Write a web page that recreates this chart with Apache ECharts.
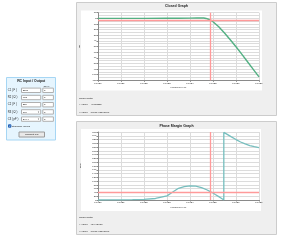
<!DOCTYPE html>
<html><head><meta charset="utf-8">
<script src="https://cdn.jsdelivr.net/npm/echarts@6/dist/echarts.min.js"></script>
<style>html,body{margin:0;padding:0;background:#fff;}#c{width:281px;height:240px;}</style>
</head><body><div id="c"></div>
<script>
// ---- data ----
const tickLabels = ['10.0E0','10.0E1','10.0E2','10.0E3','10.0E4','10.0E5','10.0E6','10.0E7'];
const gainExp = [0, 1, 2, 3, 3.5, 4, 4.3, 4.5, 4.6, 4.7, 4.8, 4.9, 5.0, 5.1, 5.25, 5.5, 5.75, 6.0, 6.25, 6.5, 6.75, 7.0];
const gainDb  = [0, 0, 0, 0.05, 0.15, 0.4, 0.7, 0.8, 0.6, -0.2, -1.6, -3.1, -6, -9.5, -15, -26, -38, -50.5, -63.5, -77, -90.5, -104];
const phaseExp = [0, 0.5, 1, 1.5, 2, 2.5, 3, 3.25, 3.5, 3.75, 4.0, 4.25, 4.5, 4.75, 4.9, 5.0, 5.1, 5.25, 5.36, 5.47, 5.47, 5.6, 5.8, 6.0, 6.2, 6.4, 6.6, 6.8, 7.0];
const phaseDeg = [0, 0.2, 0.5, 1.5, 3, 8, 22, 42, 62, 71, 75, 73, 65, 53, 43, 37, 29, 18, 9, 0, 358, 349, 334, 320, 307, 297, 288, 282, 277];
const cursorFreq = 79101.92241001;
const cursorGainDb = -3.002227;
const cursorPhaseDeg = 42.445923;
const gainText = { y: '-3.002227', x: '79101.92241001' };
const phaseText = { y: '42.445923', x: '79101.92241001' };
const formLabels = ['C1 ( F )', 'R2 ( \u03A9 )', 'C2 ( F )', 'R3 ( \u03A9 )', 'C3 ( pF )'];
const formValues = ['220n', '982', '22n', '100', '240 X'];
const formSelect = [false, false, false, true, true];
const tolValues = ['5', '5', '5', '5', '5'];

const FONT = 'Liberation Sans, Arial, sans-serif';
const chart = echarts.init(document.getElementById('c'), null, {renderer: 'canvas'});

function txt(x, y, text, size, opts) {
  opts = opts || {};
  return { type: 'text', x: x, y: y, z: 20, silent: true,
    style: { text: text, fontSize: size, fontFamily: FONT, fontWeight: opts.bold ? 'bold' : 'normal',
      fill: opts.fill || '#1a1a1a', align: opts.align || 'left', verticalAlign: 'middle' } };
}
function rect(x, y, w, h, fill, stroke, z) {
  return { type: 'rect', z: z === undefined ? -10 : z, silent: true, shape: { x: x, y: y, width: w, height: h },
    style: { fill: fill, stroke: stroke || null, lineWidth: stroke ? 1 : 0 } };
}

const g = [];
// chart panels
g.push(rect(76.5, 2.5, 200, 113, '#efefef', '#cccccc', -20));
g.push(rect(81, 10.5, 181, 80, '#ffffff', null, -15));
g.push(rect(76.5, 121.5, 200, 113, '#efefef', '#cccccc', -20));
g.push(rect(81, 129, 180, 82, '#ffffff', null, -15));
g.push(txt(176.5, 6, 'Closed Graph', 3.5, {bold: true, align: 'center'}));
g.push(txt(176.5, 125.8, 'Phase Margin Graph', 3.5, {bold: true, align: 'center'}));
// cursor data
[[98.5, 104.3, 112.5, gainText], [217.5, 224, 231.8, phaseText]].forEach(function (r) {
  g.push(txt(79, r[0], 'Cursor Data:', 2.5));
  g.push(txt(79, r[1], 'Y Value:', 2.5));
  g.push(txt(90.5, r[1], r[3].y, 2.5));
  g.push(txt(79, r[2], 'X Value:', 2.5));
  g.push(txt(90.5, r[2], r[3].x, 2.5));
});
// RC input panel
g.push(rect(6.5, 77.5, 49, 62.5, '#e6f5fe', '#a6d6f4', -20));
g.push(txt(31.2, 81.2, 'RC Input / Output', 3.4, {bold: true, align: 'center'}));
g.push(txt(46.5, 86, 'Tol %', 2.5, {align: 'center'}));
formLabels.forEach(function (lab, i) {
  const y = 90.3 + i * 7.2;
  g.push(txt(7.8, y, lab, 2.7));
  g.push(rect(21.5, y - 2.2, 19.2, 4.4, '#ffffff', '#b0b0b0', -5));
  g.push(txt(22.7, y, formValues[i], 2.5));
  if (formSelect[i]) g.push(txt(38.6, y, '\u02C5', 2.6, {align: 'center', fill: '#555'}));
  g.push(rect(42.8, y - 2.2, 10.6, 4.4, '#ffffff', '#b0b0b0', -5));
  g.push(txt(43.9, y, tolValues[i], 2.5));
});
g.push(rect(8.5, 124.8, 2.4, 2.4, '#3d7fd6', '#2a63b3', -5));
g.push(txt(9.7, 126, '\u2713', 2.4, {align: 'center', fill: '#fff'}));
g.push(txt(11.8, 126, 'Standard Values', 2.5));
g.push(rect(19, 132, 25.5, 5, '#e9e9e9', '#9a9a9a', -5));
g.push(txt(31.7, 134.5, 'Suggest RC', 2.5, {align: 'center'}));

const gridColor = '#dcdcdc';
function xAx(i) {
  return { type: 'value', gridIndex: i, min: 0, max: 7, interval: 1,
    axisLine: { show: true, onZero: false, lineStyle: { color: '#8a8a8a', width: 1 } },
    axisTick: { show: true, length: 1.5, lineStyle: { color: '#8a8a8a' } },
    axisLabel: { fontSize: 2.3, color: '#222', margin: 1.8, fontFamily: FONT,
      formatter: function (v) { return tickLabels[Math.round(v)]; } },
    splitLine: { show: true, lineStyle: { color: gridColor, width: 1 } },
    name: 'Frequency(Hz)', nameLocation: 'middle', nameGap: 6.5,
    nameTextStyle: { fontSize: 2.4, color: '#222', fontFamily: FONT } };
}
function yAx(i, min, max, interval, name, minor) {
  const a = { type: 'value', gridIndex: i, min: min, max: max, interval: interval,
    axisLine: { show: true, onZero: false, lineStyle: { color: '#8a8a8a', width: 1 } },
    axisTick: { show: true, length: 1.5, lineStyle: { color: '#8a8a8a' } },
    axisLabel: { fontSize: 2.3, color: '#222', margin: 1.8, fontFamily: FONT },
    splitLine: { show: true, lineStyle: { color: gridColor, width: 1 } },
    name: name, nameLocation: 'middle', nameRotate: 90, nameGap: 11,
    nameTextStyle: { fontSize: 2.5, color: '#222', fontFamily: FONT } };
  if (minor) {
    a.minorTick = { show: false, splitNumber: 2 };
    a.minorSplitLine = { show: true, lineStyle: { color: gridColor, width: 1 } };
  }
  return a;
}
const mlStyle = { color: '#ff9a9a', width: 1.3, type: 'solid' };

chart.setOption({
  animation: false,
  backgroundColor: '#ffffff',
  textStyle: { fontFamily: FONT },
  grid: [
    { left: 98, top: 12.7, width: 161, height: 67.6 },
    { left: 98, top: 132, width: 161, height: 68 }
  ],
  xAxis: [xAx(0), xAx(1)],
  yAxis: [yAx(0, -110, 10, 10, 'dB', true), yAx(1, 0, 360, 20, 'Deg', false)],
  graphic: { elements: g },
  series: [
    { type: 'line', xAxisIndex: 0, yAxisIndex: 0, showSymbol: false, smooth: false,
      data: gainExp.map(function (e, i) { return [e, gainDb[i]]; }),
      lineStyle: { color: '#53b083', width: 1.4 }, itemStyle: { color: '#53b083' },
      markLine: { silent: true, symbol: ['none', 'none'], label: { show: false }, lineStyle: mlStyle,
        data: [{ xAxis: Math.log10(cursorFreq) }, { yAxis: cursorGainDb }] } },
    { type: 'line', xAxisIndex: 1, yAxisIndex: 1, showSymbol: false, smooth: false,
      data: phaseExp.map(function (e, i) { return [e, phaseDeg[i]]; }),
      lineStyle: { color: '#76bebe', width: 1.3 }, itemStyle: { color: '#76bebe' },
      markLine: { silent: true, symbol: ['none', 'none'], label: { show: false }, lineStyle: mlStyle,
        data: [{ xAxis: Math.log10(cursorFreq) }, { yAxis: cursorPhaseDeg }] } }
  ]
});
</script></body></html>
